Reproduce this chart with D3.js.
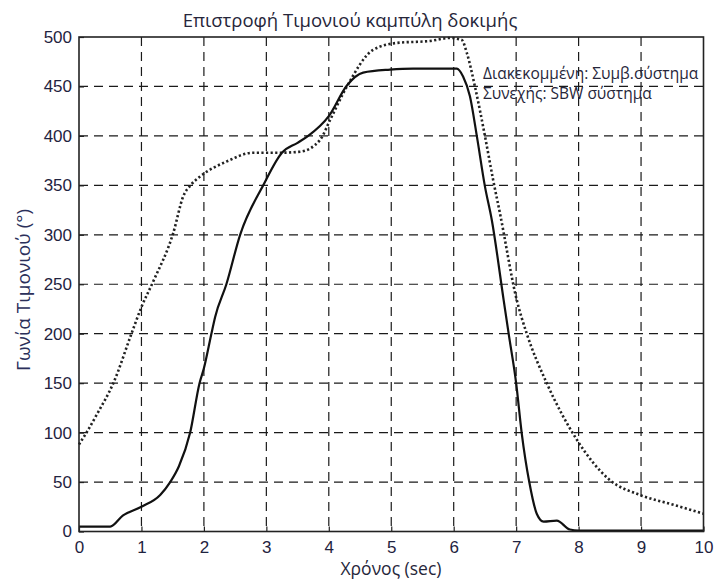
<!DOCTYPE html>
<html>
<head>
<meta charset="utf-8">
<script src="https://cdn.jsdelivr.net/npm/d3@7"></script>
<style>
  html, body { margin: 0; padding: 0; background: #fff; }
  svg { display: block; }
</style>
</head>
<body>
<svg id="chart" width="714" height="579"></svg>
<script>
// Steering-wheel return test: angle (deg) over time (sec)
const xTicks = [0, 1, 2, 3, 4, 5, 6, 7, 8, 9, 10];
const yTicks = [0, 50, 100, 150, 200, 250, 300, 350, 400, 450, 500];

// Conventional steering system (dotted)
const timeConv = [0, 0.12, 0.3, 0.55, 0.84, 1.0, 1.19, 1.51, 1.67, 1.8, 1.94, 2.36, 2.79, 3.22, 3.54, 3.86, 4.02, 4.29, 4.71, 5.09, 5.62, 5.94, 6.13, 6.21, 6.34, 6.5, 6.63, 6.74, 7.01, 7.17, 7.49, 7.97, 8.5, 8.98, 9.52, 10.0];
const angleConv = [88, 100, 120, 150, 200, 227, 253, 302, 339, 351, 359, 374, 383, 383, 384, 396, 416, 450, 487, 494, 496, 499, 497, 484, 450, 400, 356, 322, 234, 200, 150, 93, 52, 37, 27, 18];

// Steer-by-wire system (solid)
const timeSBW = [0, 0.5, 0.7, 1.0, 1.3, 1.46, 1.6, 1.78, 1.93, 2.0, 2.12, 2.18, 2.36, 2.58, 2.95, 3.25, 3.5, 3.67, 4.0, 4.29, 4.55, 4.98, 5.35, 6.05, 6.15, 6.26, 6.37, 6.5, 6.61, 6.8, 6.88, 7.0, 7.09, 7.21, 7.33, 7.44, 7.65, 7.86, 8.0, 9.0, 10.0];
const angleSBW = [5, 5, 16, 25, 37, 50, 66, 100, 150, 165, 200, 217, 250, 300, 350, 383, 393, 400, 420, 451, 464, 467, 468, 468, 460, 440, 400, 349, 315, 234, 200, 150, 99, 50, 18, 10, 11, 2, 1, 1, 1];

const titleText = "Επιστροφή Τιμονιού καμπύλη δοκιμής";
const xLabel = "Χρόνος (sec)";
const yLabel = "Γωνία Τιμονιού (°)";
const legendLines = ["Διακεκομμένη: Συμβ.σύστημα", "Συνεχής: SBW σύστημα"];

const svg = d3.select("#chart");
const W = 714, H = 579;
const plot = { left: 79, right: 703.5, top: 37, bottom: 531.5 };
const textColor = "#26263a";
const uiFont = "'Open Sans', 'Noto Sans', sans-serif";
const tickFont = "'Liberation Sans', Arial, sans-serif";

svg.append("rect").attr("width", W).attr("height", H).attr("fill", "#fff");

const x = d3.scaleLinear().domain([0, 10]).range([plot.left, plot.right]);
const y = d3.scaleLinear().domain([0, 500]).range([plot.bottom, plot.top]);

// dashed grid
const grid = svg.append("g").attr("stroke", "#1a1a1a").attr("stroke-width", 1.2)
  .attr("stroke-dasharray", "9,6").attr("fill", "none");
grid.selectAll("line.v").data(xTicks.slice(1, -1)).join("line")
  .attr("class", "v")
  .attr("x1", d => x(d)).attr("x2", d => x(d))
  .attr("y1", plot.top).attr("y2", plot.bottom);
grid.selectAll("line.h").data(yTicks.slice(1, -1)).join("line")
  .attr("class", "h")
  .attr("x1", plot.left).attr("x2", plot.right)
  .attr("y1", d => y(d)).attr("y2", d => y(d));

// axes
const xAxis = d3.axisBottom(x).tickValues(xTicks).tickSize(-5).tickPadding(9).tickFormat(d3.format("d"));
const yAxis = d3.axisLeft(y).tickValues(yTicks).tickSize(-5).tickPadding(7).tickFormat(d3.format("d"));
const gx = svg.append("g").attr("transform", `translate(0,${plot.bottom})`).call(xAxis);
const gy = svg.append("g").attr("transform", `translate(${plot.left},0)`).call(yAxis);
[gx, gy].forEach(g => {
  g.select(".domain").remove();
  g.selectAll(".tick line").attr("stroke", "#222").attr("stroke-width", 1.2);
  g.selectAll(".tick text").attr("fill", "#1f2340").attr("font-family", tickFont).attr("font-size", 17);
});

// curves
const curve = d3.line().x(d => x(d[0])).y(d => y(d[1])).curve(d3.curveMonotoneX);
svg.append("path")
  .datum(d3.zip(timeConv, angleConv))
  .attr("d", curve)
  .attr("fill", "none").attr("stroke", "#222").attr("stroke-width", 2.6)
  .attr("stroke-dasharray", "2.2,2.4");
svg.append("path")
  .datum(d3.zip(timeSBW, angleSBW))
  .attr("d", curve)
  .attr("fill", "none").attr("stroke", "#111").attr("stroke-width", 2.2)
  .attr("stroke-linejoin", "round");

// frame
svg.append("rect")
  .attr("x", plot.left).attr("y", plot.top)
  .attr("width", plot.right - plot.left).attr("height", plot.bottom - plot.top)
  .attr("fill", "none").attr("stroke", "#222").attr("stroke-width", 1.6);

// title and axis labels
svg.append("text").attr("x", 350).attr("y", 27).attr("text-anchor", "middle")
  .attr("font-family", uiFont).attr("font-size", 18.5).attr("fill", textColor).text(titleText);
svg.append("text").attr("x", 391).attr("y", 574.5).attr("text-anchor", "middle")
  .attr("font-family", uiFont).attr("font-size", 17.5).attr("fill", textColor).text(xLabel);
svg.append("text").attr("transform", "translate(30,290) rotate(-90)").attr("text-anchor", "middle")
  .attr("font-family", uiFont).attr("font-size", 19).attr("fill", "#2b2f5a").text(yLabel);

// legend text
svg.append("g").selectAll("text").data(legendLines).join("text")
  .attr("x", 483).attr("y", (d, i) => 79 + i * 20)
  .attr("font-family", uiFont).attr("font-size", 15.5).attr("fill", textColor)
  .text(d => d);
</script>
</body>
</html>
